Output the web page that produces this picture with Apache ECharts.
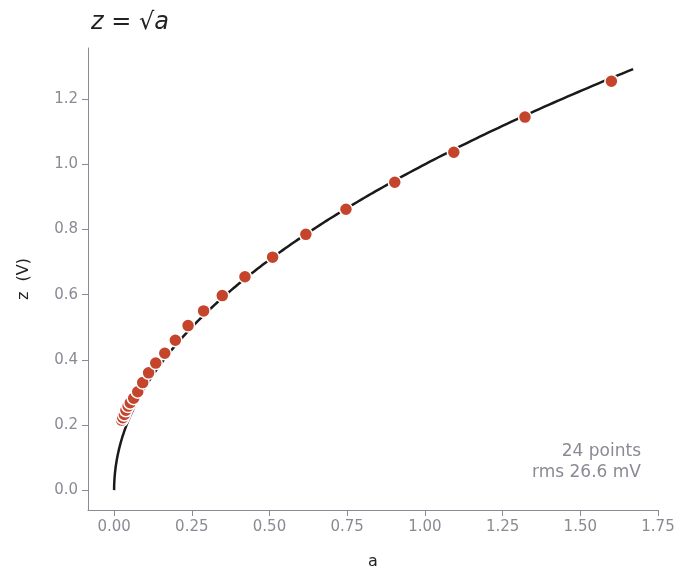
<!DOCTYPE html>
<html><head><meta charset="utf-8">
<script src="https://cdn.jsdelivr.net/npm/echarts@6/dist/echarts.min.js"></script>
<style>html,body{margin:0;padding:0;background:#fff}#c{width:694px;height:586px}</style>
</head><body><div id="c"></div>
<script>
const aVals=[0.024,0.028,0.033,0.038,0.045,0.052,0.063,0.076,0.092,0.111,0.134,0.163,0.197,0.238,0.288,0.348,0.421,0.510,0.617,0.746,0.903,1.093,1.322,1.600];
const zVals=[0.215,0.222,0.232,0.245,0.258,0.268,0.282,0.302,0.33,0.36,0.39,0.42,0.46,0.505,0.55,0.597,0.655,0.715,0.785,0.862,0.945,1.037,1.145,1.255];
const xTicks=[0,0.25,0.5,0.75,1.0,1.25,1.5,1.75];
const yTicks=[0,0.2,0.4,0.6,0.8,1.0,1.2];
const curve=[];
for(let i=0;i<=200;i++){const a=1.67*Math.pow(i/200,2);curve.push([a,Math.sqrt(a)]);}
const gray='#8a8a94';
const ch=echarts.init(document.getElementById('c'));
ch.setOption({
 animation:false,
 grid:{left:88,right:36,top:48,bottom:76},
 title:{text:'z = √a',left:86,top:6,textStyle:{fontFamily:'DejaVu Sans',fontStyle:'italic',fontWeight:'normal',fontSize:24,color:'#222'}},
 xAxis:{type:'value',min:-0.084,max:1.75,name:'a',nameLocation:'middle',nameGap:44,
  nameTextStyle:{fontFamily:'DejaVu Sans',fontSize:16,color:'#222'},
  splitLine:{show:false},axisLine:{onZero:false,lineStyle:{color:gray}},
  axisLabel:{fontFamily:'DejaVu Sans',fontSize:15,color:gray,margin:10,customValues:xTicks,formatter:v=>v.toFixed(2)},
  axisTick:{customValues:xTicks,length:6,lineStyle:{color:gray}}},
 yAxis:{type:'value',min:-0.061,max:1.357,name:'z  (V)',nameLocation:'middle',nameGap:56,
  nameTextStyle:{fontFamily:'DejaVu Sans',fontSize:16,color:'#222'},
  splitLine:{show:false},axisLine:{show:true,onZero:false,lineStyle:{color:gray}},
  axisLabel:{fontFamily:'DejaVu Sans',fontSize:15,color:gray,margin:10,customValues:yTicks,formatter:v=>v.toFixed(1)},
  axisTick:{show:true,customValues:yTicks,length:6,lineStyle:{color:gray}}},
 series:[
  {type:'line',data:curve,showSymbol:false,lineStyle:{color:'#1a1a1a',width:2.5},z:1},
  {type:'scatter',data:aVals.map((a,i)=>[a,zVals[i]]),symbolSize:13,itemStyle:{color:'#c4452c',opacity:1,borderColor:'#fff',borderWidth:1.5},z:2}
 ],
 graphic:[{type:'text',x:641,y:441,style:{text:'24 points\nrms 26.6 mV',textAlign:'right',align:'right',fontFamily:'DejaVu Sans',fontSize:17,fill:gray,lineHeight:21}}]
});
</script></body></html>
